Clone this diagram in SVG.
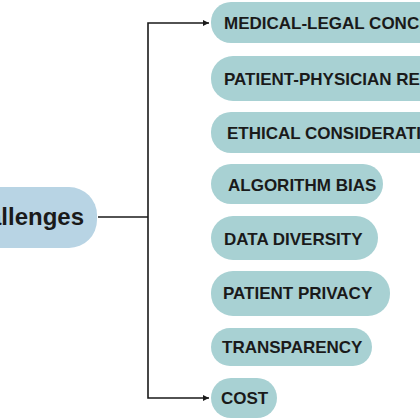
<svg xmlns="http://www.w3.org/2000/svg" width="420" height="420" viewBox="0 0 420 420">
<style>
.c{fill:#b8d4e4}
.n{fill:#a8d1d3}
.t{font-family:"Liberation Sans",Arial,sans-serif;font-weight:bold;font-size:17px;fill:#1a1a1a}
.ct{font-family:"Liberation Sans",Arial,sans-serif;font-weight:bold;font-size:24px;fill:#1a1a1a}
.l{fill:none;stroke:#1a1a1a;stroke-width:1.6}
</style>
<defs>
<marker id="ah" markerWidth="8" markerHeight="8" refX="6" refY="3" orient="auto" markerUnits="userSpaceOnUse">
<path d="M0,0 L6,3 L0,6 Z" fill="#1a1a1a"/>
</marker>
</defs>
<rect width="420" height="420" fill="#ffffff"/>
<g id="connectors">
<path class="l" d="M98,217 H148"/>
<path class="l" d="M148,217 V23 H209" marker-end="url(#ah)"/>
<path class="l" d="M148,217 V398 H209" marker-end="url(#ah)"/>
</g>
<g id="challenges">
<rect class="c" x="-60" y="187" width="157" height="61" rx="28"/>
<text class="ct" x="84" y="225" text-anchor="end">Challenges</text>
</g>
<g id="medical-legal">
<rect class="n" x="211" y="2" width="300" height="41" rx="20"/>
<text class="t" x="224" y="29">MEDICAL-LEGAL CONCERNS</text>
</g>
<g id="patient-physician">
<rect class="n" x="211" y="56" width="300" height="45" rx="22"/>
<text class="t" x="224" y="85">PATIENT-PHYSICIAN RELATIONSHIP</text>
</g>
<g id="ethical">
<rect class="n" x="211" y="112" width="300" height="41" rx="20"/>
<text class="t" x="227" y="139">ETHICAL CONSIDERATIONS</text>
</g>
<g id="algorithm-bias">
<rect class="n" x="211" y="164" width="172" height="40" rx="20"/>
<text class="t" x="228" y="191">ALGORITHM BIAS</text>
</g>
<g id="data-diversity">
<rect class="n" x="211" y="216" width="167" height="44" rx="22"/>
<text class="t" x="224" y="245">DATA DIVERSITY</text>
</g>
<g id="patient-privacy">
<rect class="n" x="211" y="271" width="179" height="45" rx="22"/>
<text class="t" x="223" y="299">PATIENT PRIVACY</text>
</g>
<g id="transparency">
<rect class="n" x="211" y="328" width="161" height="38" rx="19"/>
<text class="t" x="222" y="353">TRANSPARENCY</text>
</g>
<g id="cost">
<rect class="n" x="211" y="378" width="66" height="40" rx="20"/>
<text class="t" x="221" y="404">COST</text>
</g>
</svg>
